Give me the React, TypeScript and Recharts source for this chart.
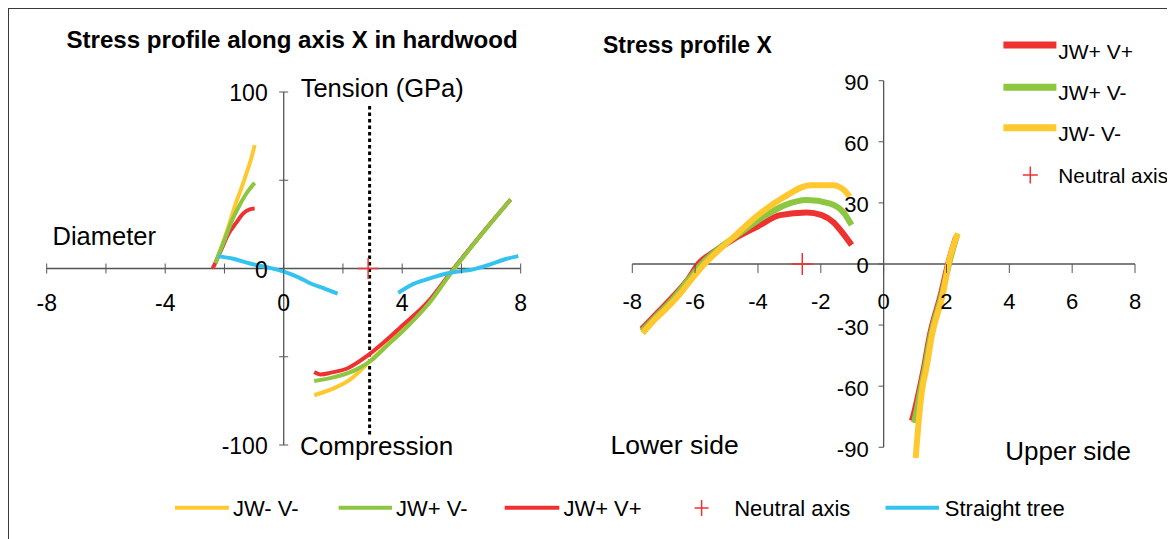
import { ComposedChart, Line, Scatter, XAxis, YAxis, ReferenceLine } from 'recharts';

// Two stress-profile panels (hardwood diameter, axis X) with the axes crossing
// at zero, as in the spreadsheet original. Axis ticks and the neutral-axis
// crosses are drawn as Scatter points so they go through the chart scales.

type Pt = { x: number; y: number };
const pts = (a: number[][]): Pt[] => a.map(([x, y]) => ({ x, y }));

// ---- left panel: "Stress profile along axis X in hardwood"
const leftYellowA = pts([[-2.3, 3], [-2.1, 12.2], [-1.86, 24], [-1.62, 36.8], [-1.44, 45], [-1.26, 53.8], [-1.1, 62], [-0.98, 69.9]]);
const leftGreenA = pts([[-2.3, 3], [-2.22, 6.6], [-1.98, 17], [-1.74, 27.4], [-1.5, 35.5], [-1.26, 42.5], [-0.98, 48.5]]);
const leftRedA = pts([[-2.4, 0], [-2.34, 2], [-2.1, 11], [-1.86, 19.8], [-1.6, 26], [-1.38, 31], [-1.15, 33.5], [-0.98, 34]]);

const leftYellowB = pts([[1.03, -71.8], [1.6, -68.5], [2.24, -63], [2.82, -54], [3.32, -46], [3.93, -36], [4.89, -20], [5.67, -2], [6.7, 19.8], [7.66, 39.1]]);
const leftGreenB = pts([[1.03, -63.7], [1.6, -62], [2.48, -57], [2.96, -52], [3.44, -44.5], [4.17, -33], [4.89, -20], [5.67, -2], [6.7, 19.8], [7.66, 39.1]]);
const leftRedB = pts([[1.03, -58.6], [1.25, -60], [1.6, -59], [2.16, -56.5], [2.82, -49.5], [3.44, -41], [3.93, -33.5], [4.89, -18.5], [5.67, -1.5], [6.7, 20], [7.66, 39.1]]);

const leftBlueA = pts([[-2.22, 7], [-1.7, 5.5], [-1.14, 2.8], [-0.5, 0.5], [0.03, -1.9], [0.5, -5], [0.91, -8.5], [1.4, -11.5], [1.82, -14.2]]);
const leftBlueB = pts([[3.87, -13.8], [4.29, -9.5], [4.8, -6.3], [5.28, -3.8], [5.67, -2.3], [6.4, -0.5], [7.0, 2.5], [7.53, 5.5], [7.92, 7]]);

const leftDivider = pts([[2.9, 92], [2.9, -95]]);
const leftNeutral = pts([[2.85, 0]]);

const leftXTicks = [-8, -6, -4, -2, 0, 2, 4, 6, 8];
const leftXLabels = [-8, -4, 0, 4, 8];
const leftYTicks = [-100, -50, 0, 50, 100];
const leftYLabels = [-100, 0, 100];

// ---- right panel: "Stress profile X"
const rightRedLow = pts([[-7.7, -32], [-7.2, -24], [-6.7, -16], [-6.2, -7], [-5.9, 0], [-5.4, 6], [-4.8, 12], [-4.0, 18.5], [-3.3, 24], [-2.45, 25.3], [-1.97, 24], [-1.6, 20.5], [-1.38, 16.7], [-1.02, 9.3]]);
const rightGreenLow = pts([[-7.7, -33], [-7.2, -25], [-6.7, -17], [-6.2, -7.5], [-5.8, 0], [-5.3, 7], [-4.8, 12.6], [-4.0, 21.4], [-3.16, 28.8], [-2.45, 31.4], [-1.73, 29.8], [-1.26, 25], [-1.02, 19.1]]);
const rightYellowLow = pts([[-7.67, -34], [-7.2, -26], [-6.96, -22.5], [-6.5, -15], [-6.13, -7.8], [-5.7, 0], [-5.3, 6], [-4.82, 12.6], [-4.0, 24], [-3.16, 33], [-2.33, 38.7], [-1.62, 38.7], [-1.26, 36.3], [-1.08, 33]]);

const rightRedUp = pts([[0.9, -77], [0.97, -73], [1.12, -63], [1.27, -52], [1.47, -35], [1.82, -15], [2.05, 0], [2.3, 13]]);
const rightGreenUp = pts([[0.97, -78], [1.05, -72], [1.17, -62], [1.3, -52], [1.5, -35], [1.85, -15], [2.08, 0], [2.33, 14]]);
const rightYellowUp = pts([[1.02, -95.2], [1.12, -76.5], [1.24, -60.1], [1.35, -52], [1.53, -35.6], [1.89, -14.4], [2.09, 2], [2.36, 15]]);

const rightNeutral = pts([[-2.59, 0]]);

const rightXTicks = [-8, -6, -4, -2, 0, 2, 4, 6, 8];
const rightYTicks = [-90, -60, -30, 0, 30, 60, 90];

const RED = '#ee3231';
const GREEN = '#8dc641';
const YELLOW = '#fec82e';
const BLUE = '#33c3ee';
const AXIS = '#555';
const FONT = '"Liberation Sans", Arial, Helvetica, sans-serif';

const onAxisX = (ticks: number[]) => ticks.map((x) => ({ x, y: 0 }));
const onAxisY = (ticks: number[]) => ticks.map((y) => ({ x: 0, y }));

function plus(size: number, color: string) {
  return (p: any) => (
    <g>
      <line x1={p.cx - size / 2} x2={p.cx + size / 2} y1={p.cy} y2={p.cy} stroke={color} strokeWidth={1.5} />
      <line x1={p.cx} x2={p.cx} y1={p.cy - size / 2} y2={p.cy + size / 2} stroke={color} strokeWidth={1.5} />
    </g>
  );
}

function LeftXTick(p: any) {
  const v = p.payload?.x;
  return (
    <g>
      <line x1={p.cx} x2={p.cx} y1={p.cy - 5} y2={p.cy + 5} stroke={AXIS} />
      {leftXLabels.includes(v) && (
        <text x={p.cx} y={p.cy + 34} textAnchor='middle' dominantBaseline='central' fontSize={23} fontFamily={FONT} fill='#000'>
          {v}
        </text>
      )}
    </g>
  );
}

function LeftYTick(p: any) {
  const v = p.payload?.y;
  return (
    <g>
      <line x1={p.cx - 4.5} x2={p.cx + 4.5} y1={p.cy} y2={p.cy} stroke={AXIS} />
      {leftYLabels.includes(v) && (
        <text x={p.cx - 16} y={p.cy + 1} textAnchor='end' dominantBaseline='central' fontSize={23} fontFamily={FONT} fill='#000'>
          {v}
        </text>
      )}
    </g>
  );
}

function RightXTick(p: any) {
  return (
    <g>
      <line x1={p.cx} x2={p.cx} y1={p.cy} y2={p.cy + 9} stroke={AXIS} />
      <text x={p.cx} y={p.cy + 38} textAnchor='middle' dominantBaseline='central' fontSize={22} fontFamily={FONT} fill='#000'>
        {p.payload?.x}
      </text>
    </g>
  );
}

function RightYTick(p: any) {
  return (
    <g>
      <line x1={p.cx - 5} x2={p.cx} y1={p.cy} y2={p.cy} stroke={AXIS} />
      <text x={p.cx - 15} y={p.cy + 2} textAnchor='end' dominantBaseline='central' fontSize={22} fontFamily={FONT} fill='#000'>
        {p.payload?.y}
      </text>
    </g>
  );
}

const series = (data: Pt[], color: string, width: number, key: string) => (
  <Line
    key={key}
    data={data}
    dataKey='y'
    type='monotone'
    stroke={color}
    strokeWidth={width}
    dot={false}
    activeDot={false}
    isAnimationActive={false}
  />
);

function LeftPanel() {
  return (
    <ComposedChart width={540} height={480} margin={{ top: 84, right: 27.3, bottom: 43, left: 38.7 }}>
      <XAxis dataKey='x' type='number' domain={[-8, 8]} hide />
      <YAxis type='number' domain={[-100, 100]} hide />
      <ReferenceLine y={0} stroke={AXIS} strokeWidth={1.3} />
      <ReferenceLine x={0} stroke={AXIS} strokeWidth={1.3} />
      <Scatter data={onAxisX(leftXTicks)} dataKey='y' shape={LeftXTick} isAnimationActive={false} />
      <Scatter data={onAxisY(leftYTicks)} dataKey='y' shape={LeftYTick} isAnimationActive={false} />
      <Line data={leftDivider} dataKey='y' type='linear' stroke='#000' strokeWidth={3} strokeDasharray='3.5 3' dot={false} activeDot={false} isAnimationActive={false} />
      {series(leftYellowA, YELLOW, 4, 'ya')}
      {series(leftRedA, RED, 4, 'ra')}
      {series(leftGreenA, GREEN, 4, 'ga')}
      {series(leftYellowB, YELLOW, 4, 'yb')}
      {series(leftRedB, RED, 4, 'rb')}
      {series(leftGreenB, GREEN, 4, 'gb')}
      {series(leftBlueA, BLUE, 4, 'ba')}
      {series(leftBlueB, BLUE, 4, 'bb')}
      <Scatter data={leftNeutral} dataKey='y' shape={plus(21, RED)} isAnimationActive={false} />
    </ComposedChart>
  );
}

function RightPanel() {
  // the JW- V- upper-side trace runs a little below -90, so the domain
  // reaches -96 while the drawn axis stops at -90
  return (
    <ComposedChart width={600} height={520} margin={{ top: 72.7, right: 33, bottom: 68.5, left: 64.3 }}>
      <XAxis dataKey='x' type='number' domain={[-8, 8]} hide />
      <YAxis type='number' domain={[-96, 90]} hide />
      <ReferenceLine y={0} stroke={AXIS} strokeWidth={1.3} />
      <ReferenceLine segment={[{ x: 0, y: -90 }, { x: 0, y: 90 }]} stroke={AXIS} strokeWidth={1.3} />
      <Scatter data={onAxisX(rightXTicks)} dataKey='y' shape={RightXTick} isAnimationActive={false} />
      <Scatter data={onAxisY(rightYTicks)} dataKey='y' shape={RightYTick} isAnimationActive={false} />
      {series(rightRedLow, RED, 6, 'rl')}
      {series(rightGreenLow, GREEN, 6, 'gl')}
      {series(rightYellowLow, YELLOW, 6, 'yl')}
      {series(rightRedUp, RED, 6, 'ru')}
      {series(rightGreenUp, GREEN, 6, 'gu')}
      {series(rightYellowUp, YELLOW, 6, 'yu')}
      <Scatter data={rightNeutral} dataKey='y' shape={plus(22, RED)} isAnimationActive={false} />
    </ComposedChart>
  );
}

// page coordinates minus the 8px body margin
const T = (x: number, y: number, s: string, size: number, bold = false) => (
  <text x={x - 8} y={y - 8} fontSize={size} fontWeight={bold ? 'bold' : 'normal'} fontFamily={FONT} fill='#000'>
    {s}
  </text>
);

function Overlay() {
  return (
    <svg width={1167} height={531} style={{ position: 'absolute', left: 0, top: 0, pointerEvents: 'none' }}>
      {T(66.5, 48.3, 'Stress profile along axis X in hardwood', 24.1, true)}
      {T(300.7, 96.7, 'Tension (GPa)', 25.5)}
      {T(52.5, 245, 'Diameter', 25.5)}
      {T(300, 455, 'Compression', 26)}
      {T(603, 53.3, 'Stress profile X', 23, true)}
      {T(610.5, 454, 'Lower side', 26.5)}
      {T(1005.3, 460, 'Upper side', 26)}

      {/* legend, right panel */}
      <line x1={995.4} x2={1048.4} y1={37} y2={37} stroke={RED} strokeWidth={7} />
      {T(1058.3, 59.3, 'JW+ V+', 21)}
      <line x1={995.4} x2={1048.4} y1={79.3} y2={79.3} stroke={GREEN} strokeWidth={7} />
      {T(1058.3, 100, 'JW+ V-', 21)}
      <line x1={995.4} x2={1048.4} y1={119.7} y2={119.7} stroke={YELLOW} strokeWidth={7} />
      {T(1058.3, 140.7, 'JW- V-', 21)}
      <line x1={1014.8} x2={1029.8} y1={167} y2={167} stroke={RED} strokeWidth={1.5} />
      <line x1={1022.3} x2={1022.3} y1={158.5} y2={175.5} stroke={RED} strokeWidth={1.5} />
      {T(1058.3, 183.3, 'Neutral axis', 20.8)}

      {/* legend, bottom */}
      <line x1={166.9} x2={220.9} y1={499.7} y2={499.7} stroke={YELLOW} strokeWidth={4} />
      {T(233, 516, 'JW- V-', 22)}
      <line x1={330.6} x2={384} y1={499.7} y2={499.7} stroke={GREEN} strokeWidth={4} />
      {T(396, 516, 'JW+ V-', 22)}
      <line x1={496.7} x2={551.3} y1={499.7} y2={499.7} stroke={RED} strokeWidth={4} />
      {T(563.4, 516, 'JW+ V+', 22)}
      <line x1={686.6} x2={700.6} y1={500} y2={500} stroke={RED} strokeWidth={1.5} />
      <line x1={693.6} x2={693.6} y1={492} y2={508} stroke={RED} strokeWidth={1.5} />
      {T(734.2, 516, 'Neutral axis', 22)}
      <line x1={877.5} x2={930.9} y1={499.7} y2={499.7} stroke={BLUE} strokeWidth={4} />
      {T(944.8, 516, 'Straight tree', 22)}
    </svg>
  );
}

export default function App() {
  return (
    <div style={{ position: 'relative', width: 1167, height: 531, overflow: 'hidden', fontFamily: FONT }}>
      <div
        style={{
          position: 'absolute',
          left: 0,
          top: 0,
          width: 1300,
          height: 600,
          border: '1px solid #3a3a3a',
          boxSizing: 'border-box',
        }}
      />
      <div style={{ position: 'absolute', left: 0, top: 0 }}>
        <LeftPanel />
      </div>
      <div style={{ position: 'absolute', left: 560, top: 0 }}>
        <RightPanel />
      </div>
      <Overlay />
    </div>
  );
}
